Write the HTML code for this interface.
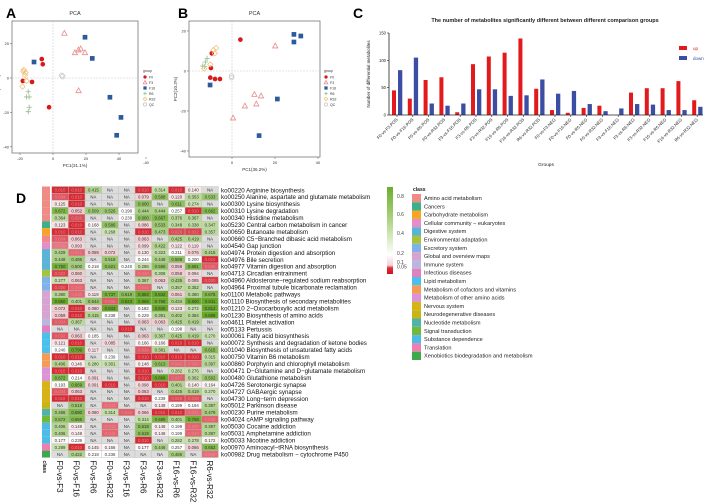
<!DOCTYPE html>
<html><head><meta charset="utf-8"><style>
html,body{margin:0;padding:0;background:#fff;width:708px;height:503px;overflow:hidden}
svg{display:block;font-family:"Liberation Sans",sans-serif}
</style></head><body>
<svg id="fig" width="708" height="503" viewBox="0 0 708 503">
<text x="6" y="18" font-size="14" font-weight="bold">A</text>
<text x="178" y="18" font-size="14" font-weight="bold">B</text>
<text x="353" y="18" font-size="14" font-weight="bold">C</text>
<text x="16" y="203" font-size="14" font-weight="bold">D</text>
<g id="pcaA"></g>
<g id="pcaB"></g>
<g id="bars"></g>
<g id="heat"></g>
</svg>
<script>
const NS="http://www.w3.org/2000/svg";
// ---- PCA data ----
const pcaGroups=["F0","F3","F16","R6","R32","QC"];
const pcaA_F0=[[-6.8,11],[-6.2,8],[-12.7,-2.3],[-18.3,-1.7],[-2.4,-17]];
const pcaA_F3=[[6.9,26],[13.3,14.7],[15.4,16.3],[16.8,16.9],[19.4,14.7],[15.5,-7.4]];
const pcaA_F16=[[19.4,23.7],[23.8,11.4],[-11.5,9.3],[34.5,-11.2],[41.2,-22.9],[38.6,-33.3]];
const pcaA_R6=[[-15,-8],[-16,-11],[-14.5,-11],[-14.4,-17],[-15,-19.6]];
const pcaA_R32=[[-18,3.7],[-17,1.7],[-16,-1.7],[-18.5,-5],[-17.7,4.7],[-16.6,3.1]];
const pcaA_QC=[[5.3,1.5],[5.9,0.8]];
const pcaB_F0=[[3.9,15.7],[-9.4,8.8],[-9.8,1.5],[-10.1,-3.3],[-7.9,-4],[-5.6,-4]];
const pcaB_F3=[[20.1,12.5],[6,-17.5],[10.4,-11.7],[11.3,-16.5],[13.5,-12.5],[0.5,-23.5]];
const pcaB_F16=[[28.8,18.3],[32,17.5],[28.8,14.5],[-10.2,-7],[21.1,-14],[12.6,-32.3]];
const pcaB_R6=[[-13.6,2.5],[-12.7,2.2],[-12.4,4.5],[-11.6,6.3]];
const pcaB_R32=[[-8.7,10.5],[-8,8.8],[-7.4,11.5],[-12.9,1.2],[-10.1,3.3]];
const pcaB_QC=[[-0.2,-2.5],[-0.2,-3.3]];
// ---- bar data ----
const barGroups=["F0-vs-F3.POS","F0-vs-F16.POS","F0-vs-R6.POS","F0-vs-R32.POS","F3-vs-F16.POS","F3-vs-R6.POS","F3-vs-R32.POS","F16-vs-R6.POS","F16-vs-R32.POS","R6-vs-R32.POS","F0-vs-F3.NEG","F0-vs-F16.NEG","F0-vs-R6.NEG","F0-vs-R32.NEG","F3-vs-F16.NEG","F3-vs-R6.NEG","F3-vs-R32.NEG","F16-vs-R6.NEG","F16-vs-R32.NEG","R6-vs-R32.NEG"];
const upVals=[45,30,64,69,5,93,107,114,140,48,9,4,13,17,0,41,49,49,62,27];
const downVals=[82,105,21,17,21,47,47,35,36,65,39,44,20,7,12,20,19,9,9,15];
const barTicks=[0,50,100,150];
// ---- heatmap data ----
const heatCols=["F0-vs-F3","F0-vs-F16","F0-vs-R6","F0-vs-R32","F3-vs-F16","F3-vs-R6","F3-vs-R32","F16-vs-R6","F16-vs-R32","R6-vs-R32"];
const heatRows=["ko00220 Arginine biosynthesis","ko00250 Alanine, aspartate and glutamate metabolism","ko00300 Lysine biosynthesis","ko00310 Lysine degradation","ko00340 Histidine metabolism","ko05230 Central carbon metabolism in cancer","ko00650 Butanoate metabolism","ko00660 C5−Branched dibasic acid metabolism","ko04540 Gap junction","ko04974 Protein digestion and absorption","ko04976 Bile secretion","ko04977 Vitamin digestion and absorption","ko04713 Circadian entrainment","ko04960 Aldosterone−regulated sodium reabsorption","ko04964 Proximal tubule bicarbonate reclamation","ko01100 Metabolic pathways","ko01110 Biosynthesis of secondary metabolites","ko01210 2−Oxocarboxylic acid metabolism","ko01230 Biosynthesis of amino acids","ko04611 Platelet activation","ko05133 Pertussis","ko00061 Fatty acid biosynthesis","ko00072 Synthesis and degradation of ketone bodies","ko01040 Biosynthesis of unsaturated fatty acids","ko00750 Vitamin B6 metabolism","ko00860 Porphyrin and chlorophyll metabolism","ko00471 D−Glutamine and D−glutamate metabolism","ko00480 Glutathione metabolism","ko04726 Serotonergic synapse","ko04727 GABAergic synapse","ko04730 Long−term depression","ko05012 Parkinson disease","ko00230 Purine metabolism","ko04024 cAMP signaling pathway","ko05030 Cocaine addiction","ko05031 Amphetamine addiction","ko05033 Nicotine addiction","ko00970 Aminoacyl−tRNA biosynthesis","ko00982 Drug metabolism − cytochrome P450"];
const N=null;
const heatVals=[
[0.01,0.01,0.415,N,N,0.01,0.314,0.01,0.140,N],
[0.034,0.01,N,N,N,0.079,0.588,0.120,0.353,0.533],
[0.125,0.01,N,N,N,0.600,N,0.611,0.274,N],
[0.672,0.052,0.509,0.526,0.190,0.444,0.444,0.257,0.01,0.662],
[0.364,0.026,N,N,0.230,0.600,0.667,0.376,0.367,N],
[0.123,0.01,0.168,0.586,N,0.086,0.533,0.348,0.338,0.347],
[0.01,0.01,N,0.268,N,0.01,0.473,0.026,0.022,0.357],
[0.034,0.063,N,N,N,0.063,N,0.425,0.419,N],
[0.049,0.093,N,N,N,0.099,0.422,0.122,0.119,N],
[0.429,0.041,0.059,0.072,N,0.130,0.323,0.211,0.076,0.415],
[0.448,0.486,N,0.518,N,0.244,0.448,0.588,0.200,0.01],
[0.750,0.500,0.218,0.621,0.240,0.286,0.586,0.058,0.681,0.035],
[0.022,0.060,N,N,N,0.040,0.308,0.058,0.094,N],
[0.277,0.063,N,N,N,0.367,0.063,0.435,0.085,0.020],
[0.020,0.040,N,N,N,0.040,N,0.357,0.352,N],
[0.380,0.040,0.119,0.737,0.619,0.863,0.842,0.061,0.380,0.675],
[0.850,0.401,0.544,0.036,0.823,0.868,0.768,0.434,0.800,0.811],
[0.072,0.01,0.080,0.833,N,0.182,0.840,0.123,0.272,0.812],
[0.059,0.01,0.415,0.238,N,0.229,0.391,0.402,0.384,0.888],
[0.034,0.367,N,N,N,0.063,0.063,0.425,0.419,N],
[N,N,N,N,0.01,N,N,0.198,N,N],
[0.032,0.063,0.185,N,N,0.063,0.367,0.425,0.419,0.270],
[0.121,0.01,N,0.085,N,0.166,0.166,0.01,0.01,N],
[0.240,0.799,0.117,N,N,0.034,0.381,N,N,0.615],
[0.01,0.01,N,0.239,N,0.01,0.01,0.01,0.01,0.315],
[0.406,0.146,0.280,0.301,N,0.148,0.613,0.041,0.040,0.397],
[0.01,0.01,N,N,N,0.01,N,0.282,0.276,N],
[0.672,0.214,0.091,N,N,0.01,0.899,0.037,0.362,0.562],
[0.193,0.669,0.091,0.01,N,0.098,0.01,0.401,0.140,0.164],
[0.034,0.063,N,N,N,0.063,N,0.425,0.419,0.270],
[0.01,0.01,N,N,N,0.01,0.239,0.026,0.028,N],
[N,0.518,N,0.043,N,N,0.148,0.199,0.194,0.397],
[0.486,0.690,0.080,0.314,0.036,0.066,0.01,0.01,0.041,0.479],
[0.572,0.656,N,N,N,0.314,0.689,0.401,0.768,0.039],
[0.406,0.148,N,0.043,N,0.619,0.148,0.199,0.040,0.397],
[0.406,0.148,N,0.040,N,0.619,0.148,0.199,0.040,0.397],
[0.177,0.239,N,N,N,0.01,N,0.282,0.278,0.172],
[0.289,0.01,0.145,0.166,N,0.177,0.446,0.257,0.066,0.652],
[N,0.422,0.218,0.236,N,N,N,0.485,N,0.046]];
const rowClass=[0,0,0,0,0,1,2,0,3,4,4,4,5,6,6,7,7,7,7,8,9,10,10,10,11,11,12,12,13,13,13,14,15,16,17,17,17,18,19];
const classNames=["Amino acid metabolism","Cancers","Carbohydrate metabolism","Cellular community − eukaryotes","Digestive system","Environmental adaptation","Excretory system","Global and overview maps","Immune system","Infectious diseases","Lipid metabolism","Metabolism of cofactors and vitamins","Metabolism of other amino acids","Nervous system","Neurodegenerative diseases","Nucleotide metabolism","Signal transduction","Substance dependence","Translation","Xenobiotics biodegradation and metabolism"];
const classColors=["#f08a84","#3fae8a","#f5a623","#e98bc9","#5ab4d6","#a7c23c","#7fb2e8","#d7a3d0","#b9b6e0","#e27fbf","#4cc0ec","#f59b54","#d993d6","#d8b315","#c8b514","#4fb3a9","#72b83a","#4dbbe8","#ef7fb0","#3fa84f"];

function mk(tag,attrs,parent,text){const e=document.createElementNS(NS,tag);for(const k in attrs)e.setAttribute(k,attrs[k]);if(text!==undefined)e.textContent=text;parent.appendChild(e);return e;}

// ---- PCA ----
const grpColor=["#d7191c","#e88b8b","#2b5b9c","#8fbc8f","#f2c27c","#c8c8c8"];
function marker(g,shape,cx,cy,col,name,sc){
  sc=sc||1.3;
  let e;
  if(shape===0) e=mk("circle",{cx:cx,cy:cy,r:1.8*sc,fill:col},g);
  else if(shape===1) e=mk("polygon",{points:`${cx},${cy-2.2*sc} ${cx-2*sc},${cy+1.5*sc} ${cx+2*sc},${cy+1.5*sc}`,fill:"none",stroke:col,"stroke-width":0.8},g);
  else if(shape===2) e=mk("rect",{x:cx-1.8*sc,y:cy-1.8*sc,width:3.6*sc,height:3.6*sc,fill:col},g);
  else if(shape===3) e=mk("path",{d:`M${cx-2*sc},${cy}H${cx+2*sc}M${cx},${cy-2*sc}V${cy+2*sc}`,stroke:col,"stroke-width":0.8},g);
  else if(shape===4) e=mk("polygon",{points:`${cx},${cy-2*sc} ${cx+2*sc},${cy} ${cx},${cy+2*sc} ${cx-2*sc},${cy}`,fill:"none",stroke:col,"stroke-width":0.8},g);
  else e=mk("circle",{cx:cx,cy:cy,r:1.8*sc,fill:"none",stroke:col,"stroke-width":0.8},g);
  
  
}
function pca(gid,fr,x0,sx,y0,sy,xt,yt,xlab,ylab,series,lx){
  const g=document.getElementById(gid);
  const X=v=>x0+v*sx, Y=v=>y0-v*sy;
  mk("rect",{x:fr[0],y:fr[1],width:fr[2]-fr[0],height:fr[3]-fr[1],fill:"#fff",stroke:"#777","stroke-width":0.8},g);
  mk("line",{x1:X(0),x2:X(0),y1:fr[1],y2:fr[3],stroke:"#ccc","stroke-width":0.6,"stroke-dasharray":"2,1"},g);
  mk("line",{x1:fr[0],x2:fr[2],y1:Y(0),y2:Y(0),stroke:"#ccc","stroke-width":0.6,"stroke-dasharray":"2,1"},g);
  xt.forEach(t=>{mk("line",{x1:X(t),x2:X(t),y1:fr[3],y2:fr[3]+2,stroke:"#555","stroke-width":0.5},g);mk("text",{x:X(t),y:fr[3]+7,"font-size":4,"text-anchor":"middle",fill:"#333"},g,t);});
  yt.forEach(t=>{mk("line",{x1:fr[0]-2,x2:fr[0],y1:Y(t),y2:Y(t),stroke:"#555","stroke-width":0.5},g);mk("text",{x:fr[0]-3,y:Y(t)+1.5,"font-size":4,"text-anchor":"end",fill:"#333"},g,t);});
  mk("text",{x:(fr[0]+fr[2])/2,y:fr[1]-6,"font-size":5.5,"text-anchor":"middle",fill:"#333"},g,"PCA");
  mk("text",{x:(fr[0]+fr[2])/2,y:fr[3]+14,"font-size":4.5,"text-anchor":"middle",fill:"#333"},g,xlab);
  const yl=(fr[1]+fr[3])/2;
  mk("text",{x:fr[0]-12,y:yl,"font-size":4.5,"text-anchor":"middle",fill:"#333",transform:`rotate(-90 ${fr[0]-12} ${yl})`},g,ylab);
  series.forEach((s,i)=>s.forEach(p=>marker(g,i,X(p[0]),Y(p[1]),grpColor[i],"pca-point-"+pcaGroups[i].toLowerCase())));
  mk("text",{x:lx,y:72,"font-size":3.5,fill:"#333"},g,"group");
  pcaGroups.forEach((n,i)=>{marker(g,i,lx+2,77+i*5.5,grpColor[i],"legend-marker-"+n.toLowerCase(),0.9);mk("text",{x:lx+6,y:78.5+i*5.5,"font-size":3.5,fill:"#333"},g,n);});
}
pca("pcaA",[12,21,138,153],53,1.65,78,1.72,[-20,0,20,40],[20,0,-20,-40],"PC1(31.1%)","PC2(11.2%)",[pcaA_F0,pcaA_F3,pcaA_F16,pcaA_R6,pcaA_R32,pcaA_QC],143);
pca("pcaB",[189,21,320,157],232,2.15,71,2.0,[-40,0,20,40],[20,0,-20,-40],"PC1(36.2%)","PC2(10.3%)",[pcaB_F0,pcaB_F3,pcaB_F16,pcaB_R6,pcaB_R32,pcaB_QC],324);

// ---- bar chart ----
(function(){
  const g=document.getElementById("bars");
  const ax=389, axEnd=703, yb=115, ytop=33, vmax=150;
  const Y=v=>yb-(v/vmax)*(yb-ytop);
  const gx=i=>397+i*15.8;
  mk("text",{x:545,y:22,"font-size":5.5,"font-weight":"bold","text-anchor":"middle",fill:"#222"},g,"The number of metabolites significantly different between different comparison groups");
  barTicks.forEach(t=>{mk("line",{x1:ax-2,x2:ax,y1:Y(t),y2:Y(t),stroke:"#222","stroke-width":0.6},g);mk("text",{x:ax-3,y:Y(t)+1.5,"font-size":4.2,"text-anchor":"end",fill:"#222"},g,t);});
  mk("text",{x:370,y:74,"font-size":4.5,"text-anchor":"middle",fill:"#222",transform:"rotate(-90 370 74)"},g,"Number of differential metabolites");
  barGroups.forEach((n,i)=>{
    const c=gx(i);
    const r=mk("rect",{x:c-5,y:Y(upVals[i]),width:4,height:yb-Y(upVals[i]),fill:"#e31a1c"},g);
    
    
    const b=mk("rect",{x:c+1,y:Y(downVals[i]),width:4.3,height:yb-Y(downVals[i]),fill:"#3a4ea3"},g);
    
    
    mk("line",{x1:c,x2:c,y1:yb,y2:yb+2,stroke:"#222","stroke-width":0.6},g);
    mk("text",{x:c+1,y:yb+5,"font-size":4.3,"text-anchor":"end",fill:"#222",transform:`rotate(-45 ${c+1} ${yb+5})`},g,n);
  });
  mk("line",{x1:ax,x2:ax,y1:ytop,y2:yb,stroke:"#222","stroke-width":0.8},g);
  mk("line",{x1:ax,x2:axEnd,y1:yb,y2:yb,stroke:"#222","stroke-width":0.8},g);
  mk("text",{x:546,y:166,"font-size":4.8,"text-anchor":"middle",fill:"#222"},g,"Groups");
  mk("rect",{x:679,y:46,width:8,height:4,fill:"#e31a1c"},g);
  mk("text",{x:693,y:50,"font-size":4.5,fill:"#e31a1c"},g,"up");
  mk("rect",{x:679,y:56,width:8,height:4,fill:"#3a4ea3"},g);
  mk("text",{x:693,y:60,"font-size":4.5,fill:"#3a4ea3"},g,"down");
})();

// ---- heatmap ----
function lerp(a,b,t){return a.map((v,i)=>Math.round(v+(b[i]-v)*t));}
function cellColor(v){
  if(v===null) return "#dcdcdc";
  if(v<0.05) return "rgb("+lerp([208,24,34],[230,120,130],v/0.05)+")";
  if(v<0.2) return "rgb("+lerp([240,200,205],[255,255,255],(v-0.05)/0.15)+")";
  if(v<0.26) return "#fff";
  const t=Math.min(1,(v-0.26)/0.55);
  return "rgb("+lerp([205,228,180],[104,170,40],t)+")";
}
(function(){
  const g=document.getElementById("heat");
  const x0=51.7,cw=16.67,y0=186.5,rh=6.95;
  heatRows.forEach((rn,r)=>{
    const y=y0+r*rh;
    const s=mk("rect",{x:42,y:y,width:8,height:rh,fill:classColors[rowClass[r]]},g);
    
    
    heatVals[r].forEach((v,c)=>{
      const x=x0+c*cw;
      const cell=mk("rect",{x:x,y:y,width:cw,height:rh,fill:cellColor(v),stroke:"#bdbdbd","stroke-width":0.4},g);
      
      
      const txt=v===null?"NA":v.toFixed(3);
      mk("text",{x:x+cw/2,y:y+rh-1.8,"font-size":4.3,"text-anchor":"middle",fill:(v!==null&&v<0.05)?"#e88a90":"#333"},g,txt);
    });
    mk("text",{x:221,y:y+rh-1.2,"font-size":6.2,fill:"#111"},g,rn);
  });
  const yb=y0+heatRows.length*rh;
  mk("text",{x:43,y:yb+3,"font-size":5,"font-weight":"bold",fill:"#111",transform:`rotate(90 43 ${yb+3})`},g,"class");
  heatCols.forEach((cn,c)=>{
    const x=x0+c*cw+cw/2-3;
    mk("text",{x:x,y:yb+3,"font-size":8,fill:"#111",transform:`rotate(90 ${x} ${yb+3})`},g,cn);
  });
  const defs=mk("defs",{},g);
  const lg=mk("linearGradient",{id:"cb",x1:0,y1:0,x2:0,y2:1},defs);
  [[0,"#6cad30"],[0.35,"#a9d07a"],[0.78,"#ffffff"],[0.9,"#f5d0d5"],[0.93,"#e0303a"],[1,"#d01020"]].forEach(s=>mk("stop",{offset:s[0],"stop-color":s[1]},lg));
  mk("rect",{x:387,y:187,width:6,height:87,fill:"url(#cb)"},g);
  [["0.8",198],["0.6",216],["0.4",235],["0.2",255],["0.1",264],["0.05",268.5]].forEach(t=>mk("text",{x:397,y:t[1],"font-size":5,fill:"#444"},g,t[0]));
  mk("text",{x:413,y:191,"font-size":5,"font-weight":"bold",fill:"#222"},g,"class");
  classNames.forEach((n,i)=>{
    const y=194+i*8.3;
    const sw=mk("rect",{x:412,y:y,width:9,height:8.3,fill:classColors[i]},g);
    
    
    mk("text",{x:424,y:y+6,"font-size":5.6,fill:"#222"},g,n);
  });
})();
</script>
</body></html>
